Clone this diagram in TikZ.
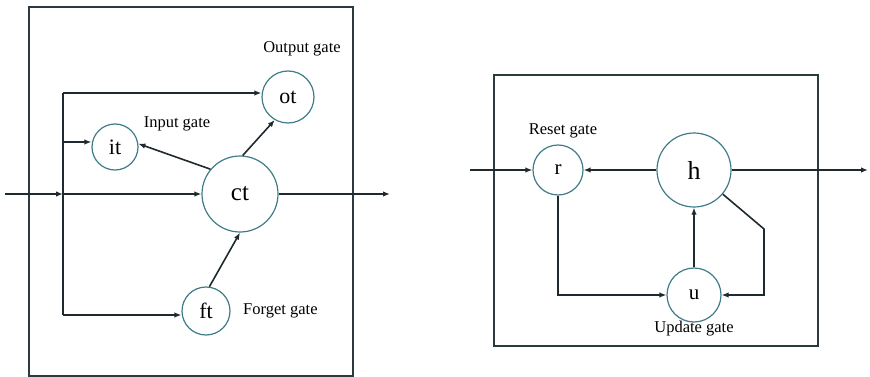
\documentclass[tikz,border=0pt]{standalone}
\usepackage{fontspec}
\setmainfont{Liberation Serif}
\usetikzlibrary{arrows.meta}
\definecolor{wire}{HTML}{1E2A2E}
\definecolor{ring}{HTML}{3F7C88}
\definecolor{frame}{HTML}{2A3A3E}
\begin{document}
\begin{tikzpicture}[x=1pt,y=-1pt,
  gate/.style={circle,draw=ring,line width=1.2pt,fill=white,inner sep=0pt},
  small/.style={gate,font=\fontsize{22}{24}\selectfont},
  big/.style={gate,font=\fontsize{25}{27}\selectfont},
  tag/.style={font=\fontsize{16.5}{18}\selectfont,inner sep=0pt},
  link/.style={draw=wire,line width=1.6pt},
  flow/.style={link,-{Latex[length=7pt,width=5.5pt]}},
  box/.style={draw=frame,line width=1.3pt}]
\useasboundingbox (0,0) rectangle (870,377);

% ---- LSTM cell ----
\draw[box] (29,7) rectangle (353,376);
\node[small,minimum size=52pt] (ot) at (288,97) {ot};
\node[small,minimum size=46pt] (it) at (115,147) {it};
\node[big,minimum size=76pt] (ct) at (240,194) {ct};
\node[small,minimum size=48pt] (ft) at (206,311) {ft};

\coordinate (xin) at (5,194);
\coordinate (tm) at (63,194);
\coordinate (tt) at (63,93);
\coordinate (ti) at (63,142);
\coordinate (tb) at (63,315);
\coordinate (cout) at (390,194);

\draw[flow] (xin) -- (tm);
\draw[link] (tt) -- (tb);
\draw[flow] (tt) -- (tt -| ot.west);
\draw[flow] (ti) -- (ti -| it.west);
\draw[flow] (tm) -- (ct.west);
\draw[flow] (tb) -- (tb -| ft.west);
\draw[flow] (ct.140) -- (it.8);
\draw[flow] (ct.86) -- (ot.240);
\draw[flow] (ft.82) -- (ct.270);
\draw[flow] (ct.east) -- (cout);

\node[tag] (lo) at (302,49) {Output gate};
\node[tag] (li) at (177,124) {Input gate};
\node[tag,anchor=west] (lf) at (243,311) {Forget gate};

% ---- GRU cell ----
\draw[box] (494,75) rectangle (818,346);
\node[small,minimum size=50pt,font=\fontsize{21}{23}\selectfont] (r) at (558,170) {r};
\node[big,minimum size=74pt,font=\fontsize{26}{28}\selectfont] (h) at (694,170) {h};
\node[small,minimum size=54pt,font=\fontsize{21}{23}\selectfont] (u) at (694,295) {u};

\coordinate (hin) at (470,170);
\coordinate (hout) at (868,170);
\coordinate (bend) at (764,229);

\draw[flow] (hin) -- (r.west);
\draw[flow] (h.west) -- (r.east);
\draw[flow] (h.east) -- (hout);
\draw[flow] (u.north) -- (h.south);
\draw[flow] (r.south) |- (u.west);
\draw[flow] (h.-40) -- (bend) |- (u.east);

\node[tag] (lr) at (563,131) {Reset gate};
\node[tag] (lu) at (694,329) {Update gate};
\end{tikzpicture}
\end{document}
